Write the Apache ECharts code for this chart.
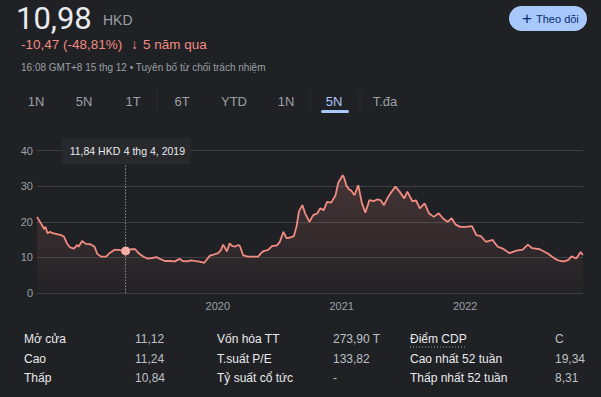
<!DOCTYPE html>
<html>
<head>
<meta charset="utf-8">
<script src="https://cdn.jsdelivr.net/npm/echarts@6/dist/echarts.min.js"></script>
<style>
	html, body { margin: 0; padding: 0; background: #202124; }
	#chart { width: 601px; height: 397px; }
</style>
</head>
<body>
<div id="chart"></div>
<script>
'use strict';

var dates = [
	'2018-07-16', '2018-07-27', '2018-08-06', '2018-08-10', '2018-08-16', '2018-08-24', '2018-08-31', '2018-09-10',
	'2018-09-25', '2018-10-04', '2018-10-12', '2018-10-22', '2018-11-02', '2018-11-12', '2018-11-16', '2018-11-26',
	'2018-12-07', '2018-12-21', '2019-01-02', '2019-01-10', '2019-01-22', '2019-02-05', '2019-02-14', '2019-03-01',
	'2019-03-15', '2019-03-25', '2019-04-04', '2019-04-19', '2019-05-02', '2019-05-14', '2019-05-27', '2019-06-07',
	'2019-06-19', '2019-07-04', '2019-07-16', '2019-07-29', '2019-08-12', '2019-08-27', '2019-09-11', '2019-09-19',
	'2019-10-02', '2019-10-14', '2019-10-25', '2019-11-08', '2019-11-22', '2019-12-09', '2019-12-20', '2020-01-02',
	'2020-01-10', '2020-01-17', '2020-01-28', '2020-02-05', '2020-02-11', '2020-02-20', '2020-03-02', '2020-03-06',
	'2020-03-16', '2020-03-30', '2020-04-14', '2020-04-29', '2020-05-08', '2020-05-15', '2020-05-29', '2020-06-09',
	'2020-06-24', '2020-07-03', '2020-07-13', '2020-07-22', '2020-08-03', '2020-08-13', '2020-08-21', '2020-08-28',
	'2020-09-07', '2020-09-15', '2020-09-28', '2020-10-09', '2020-10-21', '2020-10-30', '2020-11-09', '2020-11-19',
	'2020-12-01', '2020-12-14', '2020-12-22', '2021-01-04', '2021-01-08', '2021-01-15', '2021-01-22', '2021-01-29',
	'2021-02-08', '2021-02-19', '2021-03-02', '2021-03-12', '2021-03-24', '2021-04-06', '2021-04-15', '2021-04-26',
	'2021-05-06', '2021-05-17', '2021-05-25', '2021-06-09', '2021-06-21', '2021-07-05', '2021-07-14', '2021-07-29',
	'2021-08-09', '2021-08-20', '2021-09-03', '2021-09-16', '2021-09-30', '2021-10-15', '2021-10-29', '2021-11-10',
	'2021-11-22', '2021-12-03', '2021-12-17', '2022-01-03', '2022-01-21', '2022-02-03', '2022-02-16', '2022-03-03',
	'2022-03-23', '2022-04-07', '2022-04-22', '2022-05-12', '2022-06-01', '2022-06-20', '2022-07-05', '2022-07-18',
	'2022-08-09', '2022-09-02', '2022-09-15', '2022-09-27', '2022-10-10', '2022-10-21', '2022-11-02', '2022-11-11',
	'2022-11-25', '2022-12-08', '2022-12-13', '2022-12-15'
];
var prices = [
	21.4, 19.7, 18.0, 18.6, 16.8, 17.2, 16.8, 16.6,
	16.3, 15.8, 14.0, 12.8, 12.5, 13.5, 13.0, 14.6,
	13.8, 13.7, 13.0, 11.0, 10.2, 10.2, 11.1, 12.1,
	12.1, 11.9, 11.84, 12.3, 12.3, 11.0, 10.2, 9.7,
	9.8, 10.1, 9.5, 9.0, 9.0, 8.9, 9.6, 9.0,
	8.9, 9.2, 9.0, 8.8, 8.5, 10.5, 10.8, 11.2,
	12.0, 13.6, 11.7, 14.0, 13.3, 13.0, 13.5, 13.3,
	10.6, 10.2, 10.2, 10.2, 11.2, 11.8, 12.1, 13.2,
	13.4, 14.5, 17.2, 15.4, 15.6, 16.0, 18.8, 23.0,
	24.7, 22.4, 20.0, 21.9, 22.4, 23.8, 23.3, 25.6,
	25.4, 27.5, 31.0, 33.1, 32.5, 30.2, 29.2, 28.8,
	27.5, 30.3, 25.2, 22.6, 26.1, 25.8, 26.3, 26.1,
	24.7, 26.8, 28.0, 29.9, 28.5, 26.6, 28.5, 25.8,
	26.0, 23.8, 25.2, 22.4, 21.4, 22.4, 20.8, 20.0,
	21.0, 19.3, 18.6, 18.6, 18.8, 16.3, 16.0, 14.4,
	14.9, 13.0, 12.5, 11.2, 11.9, 12.2, 13.6, 12.6,
	12.3, 11.1, 10.2, 9.4, 9.0, 8.9, 9.3, 10.3,
	9.7, 11.5, 10.8, 10.98
];
var xTickLabels = ['2020', '2021', '2022'];
var tabs = ['1N', '5N', '1T', '6T', 'YTD', '1N', '5N', 'T.đa'];
var activeTab = 6;
var tipDate = '2019-04-04';
var tipValue = 11.84;

var statLabels = [
	['Mở cửa', 'Cao', 'Thấp'],
	['Vốn hóa TT', 'T.suất P/E', 'Tỷ suất cổ tức'],
	['Điểm CDP', 'Cao nhất 52 tuần', 'Thấp nhất 52 tuần']
];
var statValues = [
	['11,12', '11,24', '10,84'],
	['273,90 T', '133,82', '-'],
	['C', '19,34', '8,31']
];

var SANS = 'Arial, "Liberation Sans", sans-serif';
var GRAY = '#9aa0a6';
var RED = '#f28b82';

var myChart = echarts.init(document.getElementById('chart'), null, { renderer: 'svg' });

var option = {
	backgroundColor: '#202124',
	animation: false,
	grid: { left: 37, right: 18, top: 150.7, bottom: 104 },
	xAxis: {
		type: 'time',
		min: dates[0],
		max: dates[dates.length - 1],
		minInterval: 365 * 24 * 3600 * 1000,
		maxInterval: 366 * 24 * 3600 * 1000,
		axisLine: { show: false },
		axisTick: { show: false },
		splitLine: { show: false },
		axisLabel: {
			color: GRAY,
			fontSize: 11,
			fontFamily: SANS,
			margin: 7,
			hideOverlap: false,
			formatter: function (val) {
				var y = String(new Date(val).getFullYear());
				return xTickLabels.indexOf(y) >= 0 ? y : '';
			}
		}
	},
	yAxis: {
		type: 'value',
		min: 0,
		max: 40,
		interval: 10,
		axisLine: { show: false },
		axisTick: { show: false },
		axisLabel: { color: GRAY, fontSize: 11, fontFamily: SANS, margin: 4 },
		splitLine: { lineStyle: { color: '#3c4043', width: 1 } }
	},
	series: [{
		type: 'line',
		showSymbol: false,
		data: dates.map(function (d, i) { return [d, prices[i]]; }),
		lineStyle: { color: RED, width: 1.8 },
		areaStyle: {
			color: new echarts.graphic.LinearGradient(0, 0, 0, 1, [
				{ offset: 0, color: 'rgba(242,139,130,0.26)' },
				{ offset: 1, color: 'rgba(242,139,130,0.02)' }
			])
		},
		markLine: {
			silent: true,
			symbol: 'none',
			label: { show: false },
			lineStyle: { color: '#bdc1c6', type: [1, 2], width: 1 },
			data: [[{ coord: [tipDate, 40] }, { coord: [tipDate, 0] }]]
		},
		markPoint: {
			silent: true,
			symbol: 'circle',
			symbolSize: 9,
			label: { show: false },
			itemStyle: { color: '#f6aea9' },
			data: [{ coord: [tipDate, tipValue] }]
		}
	}]
};
myChart.setOption(option);

// header, tabs, tooltip box and stats table
var g = [];
function txt(x, y, s, font, fill, align, z) {
	g.push({
		type: 'text', x: x, y: y, z: z || 10,
		style: { text: s, font: font, fill: fill, align: align || 'left', verticalAlign: 'middle' }
	});
}

txt(16, 18, '10,98', '400 31px Roboto, Arial, sans-serif', '#e8eaed');
txt(103, 20, 'HKD', '400 14px ' + SANS, GRAY);
txt(21, 44, '-10,47 (-48,81%)', '400 13.5px ' + SANS, RED);
txt(131, 44, '↓', 'bold 14px ' + SANS, RED);
txt(143, 44, '5 năm qua', '400 13.5px ' + SANS, RED);
txt(21, 67, '16:08 GMT+8 15 thg 12 • Tuyên bố từ chối trách nhiệm', '400 10px ' + SANS, GRAY);

g.push({
	type: 'rect', z: 10,
	shape: { x: 509, y: 6, width: 78, height: 25, r: 12.5 },
	style: { fill: '#a8c7fa' }
});
txt(527, 18.5, '+', '400 17px ' + SANS, '#062e6f', 'center');
txt(536, 18.5, 'Theo dõi', '400 11px ' + SANS, '#062e6f');

var tabX = [36, 84, 133, 182, 234, 286, 334, 385];
tabs.forEach(function (t, i) {
	txt(tabX[i], 101, t, '400 13px ' + SANS, i === activeTab ? '#a8c7fa' : GRAY, 'center');
});
g.push({
	type: 'rect', z: 10,
	shape: { x: 321, y: 110, width: 28, height: 3, r: 1.5 },
	style: { fill: '#a8c7fa' }
});
[157, 310, 360].forEach(function (x) {
	g.push({
		type: 'line', z: 10,
		shape: { x1: x, y1: 89, x2: x, y2: 113 },
		style: { stroke: '#2b2c30', lineWidth: 1 }
	});
});

// tooltip box centred on the crosshair
var p = myChart.convertToPixel({ seriesIndex: 0 }, [tipDate, tipValue]);
g.push({
	type: 'rect', z: 20,
	shape: { x: p[0] - 64, y: 138, width: 129, height: 26 },
	style: { fill: '#28292c' }
});
txt(p[0] - 56, 151, '11,84 HKD', '400 10.5px ' + SANS, '#e8eaed', 'left', 21);
txt(p[0] - 2, 151, '4 thg 4, 2019', '400 10.5px ' + SANS, '#e8eaed', 'left', 21);

var colX = [[24, 135], [217, 333], [410, 555]];
var rowY = [339, 358.5, 378];
statLabels.forEach(function (col, c) {
	col.forEach(function (lab, r) {
		txt(colX[c][0], rowY[r], lab, '400 12px ' + SANS, '#e8eaed');
		txt(colX[c][1], rowY[r], statValues[c][r], '400 12px ' + SANS, '#bdc1c6');
	});
});
g.push({
	type: 'line', z: 10,
	shape: { x1: 410, y1: 347, x2: 467, y2: 347 },
	style: { stroke: '#9aa0a6', lineWidth: 1, lineDash: [1, 2] }
});

myChart.setOption({ graphic: g });
</script>
</body>
</html>
